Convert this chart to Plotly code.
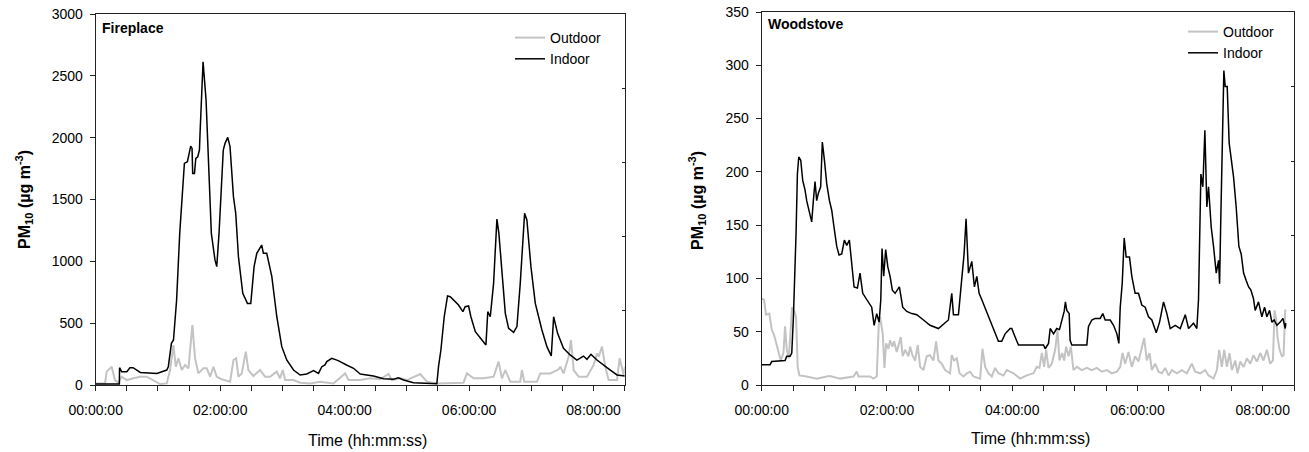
import plotly.graph_objects as go

# ---------------- data (time in minutes from start, PM10 in µg m-3) ----------------
FP_IN_T = [0, 22.8, 23, 25, 30, 33, 36, 43, 59, 68.5, 70, 73, 75, 78, 81, 85.5, 88.4, 91.6, 92.9, 93.5,
           95.2, 96.5, 98.4, 100, 100.6, 103.5, 106.4, 109, 111.5, 115, 116.7, 118.9, 120.5, 123, 124.7,
           127.3, 129.5, 132.8, 135, 137.6, 141.8, 146.3, 149.5, 152.7, 155.3, 158.5, 160, 161.7, 164.9,
           169.8, 174.6, 179.4, 184.2, 190.7, 197.1, 203.5, 210, 214.8, 218, 221, 222.8, 227.6, 233.8,
           241.8, 248.6, 255, 261.4, 267.8, 277.5, 287, 291.9, 296.8, 306.4, 319.3, 328.9, 330.5, 332.8,
           336, 339.2, 341.8, 345, 349.8, 354, 356.2, 359.5, 361.7, 366, 370.7, 376.2, 378, 380.4, 383.6,
           386.8, 388.7, 391.6, 394.9, 398.1, 402.9, 406.1, 409.3, 413.5, 415.7, 419.6, 423.8, 430.2, 435,
           439.2, 441.5, 445.3, 451, 457.4, 463.9, 470.3, 473.6, 477.5, 483.3, 492.9, 502.6, 510.2]
FP_IN_V = [8, 8, 140, 108, 108, 140, 140, 102, 94, 121, 148, 337, 364, 687, 1226, 1792, 1806, 1932, 1913, 1711,
           1711, 1833, 1846, 1900, 2035, 2614, 2304, 1684, 1226, 1011, 957, 1226, 1496, 1900, 1954,
           2002, 1927, 1523, 1388, 1038, 741, 660, 660, 957, 1065, 1105, 1132, 1065, 1065,
           876, 552, 310, 202, 121, 81, 89, 116, 94, 148, 162, 189, 216, 197,
           162, 135, 89, 81, 73, 51, 46, 59, 40, 19, 11, 11, 148, 283,
           552, 720, 714, 687, 647, 593, 633, 639, 552, 431, 377, 323, 593, 552, 822,
           1342, 1226, 903, 579, 458, 426, 472, 822, 1388, 1334, 957, 660, 445, 310,
           234, 552, 418, 296, 243, 202, 234, 208, 248, 202, 140, 81, 73]

FP_OUT_T = [0, 9, 10.6, 15.4, 18.6, 21.8, 25, 29.9, 36.3, 42.8, 49.2, 55.6, 62, 68.5, 71.7, 74.9, 77.2, 79.7,
            83, 86.2, 89.4, 93.2, 95.8, 99, 103.8, 107, 110.3, 113.5, 116.7, 121.5, 129.6, 132.8, 135.4,
            137.6, 140.8, 144.7, 147.2, 152, 158.5, 163.3, 168.1, 174.5, 177.7, 180.3, 182.6, 190.6, 197,
            206.7, 216.4, 229.2, 240.5, 243.7, 255, 264.6, 274.3, 282.3, 285.5, 293.6, 300, 312.9, 319.3,
            329, 345, 354.6, 357.9, 364.3, 373.9, 383.6, 388.4, 391.6, 394.9, 399.7, 409.3, 410.9, 413.2,
            425.4, 428.6, 438.3, 446.3, 447.9, 451.1, 455.9, 458.2, 460.8, 465.6, 473.6, 480.1, 483.3,
            484.9, 488.1, 491.3, 494.5, 502.6, 505.1, 509, 510.2]
FP_OUT_V = [13, 13, 108, 148, 40, 19, 67, 40, 54, 67, 67, 40, 8, 13, 121, 323, 148, 216,
            121, 162, 135, 485, 216, 94, 135, 135, 67, 148, 67, 46, 27, 202, 216,
            67, 94, 270, 121, 73, 121, 67, 67, 108, 54, 121, 40, 40, 19,
            13, 27, 13, 94, 40, 40, 54, 46, 89, 40, 54, 40, 89, 27,
            13, 19, 19, 94, 54, 54, 67, 189, 54, 121, 27, 27, 121, 27,
            27, 94, 94, 127, 148, 94, 229, 364, 121, 67, 67, 162, 256,
            229, 310, 148, 40, 40, 216, 81, 148]

WS_IN_T = [0, 8, 9.6, 17.6, 22.4, 24, 27.2, 28.8, 30.4, 32.9, 34.2, 35.5, 37.4, 39.3, 41.5, 43.1, 45.7, 47.9,
           49.5, 51.1, 52.7, 54.3, 56.5, 58.1, 60.1, 62.3, 64.9, 67.1, 69.3, 71.9, 74.1, 76.7, 79.2, 81.5,
           84, 86.3, 88.5, 91.7, 94.2, 96.8, 100.6, 105.4, 107.7, 110.2, 112.5, 114.1, 115.3, 116.9,
           118.8, 120.8, 123, 125.2, 127.8, 131.9, 135.1, 139, 143.8, 148.6, 155, 161.3, 169.3, 174.8,
           178.9, 182.1, 183.7, 188.5, 191.7, 193.9, 195.8, 198.1, 201.3, 203.8, 206.1, 208.3, 210.9,
           214.1, 218.8, 223.6, 226.8, 230, 233.2, 238, 239.6, 242.8, 246, 270, 271.6, 274.8, 276.4,
           279.6, 282.7, 285.3, 287.5, 289.8, 291, 292.3, 294.6, 295.5, 297.1, 311.5, 313.1, 316.3,
           319.5, 324.3, 326.8, 329.1, 333.9, 337.1, 340.3, 342.2, 343.5, 345.4, 347.3, 349.2, 352.4,
           354.6, 357.8, 361, 364.2, 367.4, 370.6, 373.8, 378, 381.2, 385, 388.2, 391.4, 396.2, 401,
           405.8, 409, 413.7, 416.9, 418.5, 420.8, 422.7, 424.6, 426.5, 428.1, 430.7, 432.9, 435.5,
           437.7, 438.7, 439.9, 441.2, 442.8, 444.1, 446, 447.9, 449.8, 452.1, 454.6, 457.2, 459.4,
           461.7, 464.2, 466.5, 468.7, 471.2, 472.8, 476, 479.2, 481.8, 484, 486.6, 488.8, 491, 493.6,
           496.8, 499.4, 501.6, 502.2]
WS_IN_V = [19, 19, 22, 23, 23, 27, 27, 30, 64, 142, 198, 214, 211, 192, 183, 173, 161, 153,
           173, 191, 173, 180, 186, 228, 211, 189, 173, 164, 148, 130, 122, 123, 136, 131,
           136, 111, 92, 91, 105, 86, 80, 73, 56, 67, 59, 80, 128, 102,
           127, 111, 102, 89, 86, 92, 73, 69, 67, 66, 61, 56, 53, 58,
           61, 86, 66, 66, 102, 123, 156, 105, 116, 92, 102, 86, 80,
           72, 61, 48, 41, 41, 48, 53, 53, 45, 37.5, 37.5, 34, 39, 53,
           48, 53, 52, 61, 69, 78, 70, 67, 42, 37.5, 37.5, 55, 61,
           62.5, 62.5, 67, 61, 61, 56, 48, 39, 73, 95, 138, 120, 120,
           102, 86, 86, 75, 73, 64, 61, 49, 59, 78, 67, 53, 56, 53,
           66, 53, 58, 53, 80, 198, 186, 239, 167, 186, 148, 130, 105,
           117, 95, 158, 236, 295, 280, 280, 227, 211, 195, 167, 130, 123,
           105, 98, 92, 89, 81, 70, 78, 64, 73, 64, 70, 59, 61, 56,
           59, 62.5, 53, 58]

WS_OUT_T = [0, 2.2, 4.2, 7.3, 9.6, 11.8, 14.4, 16.3, 18.2, 20.8, 22.4, 24, 25.9, 27.8, 29, 31, 32.9, 34.5,
            36.1, 43.1, 52.7, 62.3, 65.5, 75, 87.9, 91, 92.7, 103.8, 107, 110.2, 112.1, 113.4, 116,
            117.6, 119.2, 121.4, 123, 125.2, 126.8, 129.4, 131, 133.2, 135.1, 137.4, 140.6, 142.2,
            144.4, 147, 149.5, 151.8, 155, 158.1, 161.3, 164.5, 167.1, 169.3, 172.5, 175.7, 180.5,
            182.1, 184.3, 186.9, 189.5, 193.3, 196.5, 199.7, 202.9, 209.3, 211.5, 214.1, 217.3, 220.4,
            223.6, 226.8, 231.6, 234.8, 238, 241.2, 247.6, 254, 260.4, 263.6, 266.1, 268.4, 270.6,
            272.5, 274.8, 277.9, 281.2, 283.4, 285.3, 287.9, 289.8, 291.7, 294, 296.2, 298.7, 301.9,
            306.7, 311.5, 316.3, 321.1, 325.9, 330.7, 335.5, 340.3, 343.5, 345.7, 348.2, 351.4, 354.6,
            357.8, 361, 363.2, 366.4, 369, 371.6, 373.8, 377, 380.2, 383.4, 386.6, 389.8, 393, 397.8,
            402.6, 407.3, 412.1, 415.3, 420.1, 424.9, 428.1, 432.9, 436.1, 438.3, 440.9, 443.1, 445.7,
            448.2, 450.5, 453.7, 455.9, 458.5, 461.7, 464.9, 468.1, 471.2, 474.4, 477.6, 480.8, 484,
            487.2, 489.8, 491.4, 493, 494.2, 496.2, 498.4, 500, 501.6, 502.6]
WS_OUT_V = [81, 80, 66, 67, 52, 47, 37.5, 30, 23, 30, 55, 33, 25, 52, 73, 70, 64, 17,
            9, 8, 6, 8, 8.4, 6, 8, 12.5, 8, 8, 6, 8, 55, 64, 48,
            16, 39, 34, 42, 36, 41, 31, 36, 45, 27, 33, 27, 36,
            28, 23, 37.5, 17, 14, 27, 28, 23, 41, 23, 20, 14, 11,
            28, 23, 25, 11, 8, 11, 12.5, 8, 6, 34, 17, 11, 8,
            16, 11, 9, 14, 12.5, 11, 6, 9, 11, 17, 16, 30, 17,
            33, 16, 20, 33, 52, 23, 30, 23, 36, 27, 36, 14, 17,
            14, 16, 14, 16, 12.5, 14, 11, 12.5, 17, 30, 20, 31, 17,
            27, 22, 30, 44, 23, 30, 14, 20, 12.5, 11, 16, 9, 14, 11,
            14, 11, 20, 12.5, 11, 14, 9, 6, 14, 33, 17, 33, 17,
            30, 14, 23, 11, 22, 17, 25, 20, 28, 22, 30, 23, 33,
            20, 23, 70, 61, 45, 33, 27, 28, 70, 70]

TICK_VALS = [0, 30, 60, 90, 120, 150, 180, 210, 240, 270, 300, 330, 360, 390, 420, 450, 480, 510]
TICK_LABELS = ["00:00:00", "", "", "", "02:00:00", "", "", "", "04:00:00", "", "", "",
               "06:00:00", "", "", "", "08:00:00", ""]
SERIES_NAMES = ["Outdoor", "Indoor"]
PANEL_TITLES = ["Fireplace", "Woodstove"]

# ---------------- figure ----------------
W, H = 1309, 452
FONT = "Liberation Sans, Arial, sans-serif"
GREY = "#c3c3c3"

def px_x(p):
    return p / W

def px_y(p):
    return (H - p) / H

fig = go.Figure()
fig.add_trace(go.Scatter(x=FP_OUT_T, y=FP_OUT_V, name=SERIES_NAMES[0], mode="lines",
                         line=dict(color=GREY, width=2), xaxis="x", yaxis="y", legend="legend"))
fig.add_trace(go.Scatter(x=FP_IN_T, y=FP_IN_V, name=SERIES_NAMES[1], mode="lines",
                         line=dict(color="black", width=1.5), xaxis="x", yaxis="y", legend="legend"))
fig.add_trace(go.Scatter(x=WS_OUT_T, y=WS_OUT_V, name=SERIES_NAMES[0], mode="lines",
                         line=dict(color=GREY, width=2), xaxis="x2", yaxis="y2", legend="legend2"))
fig.add_trace(go.Scatter(x=WS_IN_T, y=WS_IN_V, name=SERIES_NAMES[1], mode="lines",
                         line=dict(color="black", width=1.5), xaxis="x2", yaxis="y2", legend="legend2"))

AX = "#222222"
common_x = dict(range=[0, 510], tickmode="array", tickvals=TICK_VALS, ticktext=TICK_LABELS,
                ticks="outside", ticklen=5, tickcolor=AX, showline=True, linecolor=AX, linewidth=1,
                mirror=True, showgrid=False, zeroline=False, ticklabelstandoff=7, automargin=False,
                tickfont=dict(family=FONT, size=14, color="black"))
common_y = dict(ticks="outside", ticklen=5, tickcolor=AX, showline=True, linecolor=AX, linewidth=1,
                mirror=True, showgrid=False, zeroline=False, ticklabelstandoff=4, automargin=False,
                tickfont=dict(family=FONT, size=14, color="black"))

L_DOM_X = [px_x(95.7), px_x(624.7)]
R_DOM_X = [px_x(761.7), px_x(1294)]
L_DOM_Y = [px_y(385), px_y(14)]
R_DOM_Y = [px_y(385), px_y(12)]

fig.update_layout(
    width=W, height=H, margin=dict(l=0, r=0, t=0, b=0, autoexpand=False),
    paper_bgcolor="white", plot_bgcolor="white",
    font=dict(family=FONT, size=14, color="black"),
    xaxis=dict(domain=L_DOM_X, anchor="y", **common_x),
    yaxis=dict(domain=L_DOM_Y, anchor="x", range=[0, 3000], dtick=500, **common_y),
    xaxis2=dict(domain=R_DOM_X, anchor="y2", **common_x),
    yaxis2=dict(domain=R_DOM_Y, anchor="x2", range=[0, 350], dtick=50, **common_y),
    # decorative inner ticks on right frame
    yaxis3=dict(overlaying="y", anchor="x", side="right", range=[0, 5], tickvals=[1, 2, 3, 4],
                ticks="inside", ticklen=3, tickcolor=AX, showticklabels=False, showgrid=False,
                zeroline=False, showline=False, automargin=False),
    yaxis4=dict(overlaying="y2", anchor="x2", side="right", range=[0, 5], tickvals=[1, 2, 3, 4],
                ticks="inside", ticklen=3, tickcolor=AX, showticklabels=False, showgrid=False,
                zeroline=False, showline=False, automargin=False),
    legend=dict(x=px_x(510), y=px_y(22), xanchor="left", yanchor="top", bgcolor="rgba(0,0,0,0)",
                font=dict(family=FONT, size=14), tracegroupgap=0, itemwidth=30),
    legend2=dict(x=px_x(1183), y=px_y(16), xanchor="left", yanchor="top", bgcolor="rgba(0,0,0,0)",
                 font=dict(family=FONT, size=14), tracegroupgap=0, itemwidth=30),
)

# invisible traces so decorative axes render
fig.add_trace(go.Scatter(x=[None], y=[None], xaxis="x", yaxis="y3", showlegend=False, hoverinfo="skip"))
fig.add_trace(go.Scatter(x=[None], y=[None], xaxis="x2", yaxis="y4", showlegend=False, hoverinfo="skip"))

ann = []
ann.append(dict(text="<b>" + PANEL_TITLES[0] + "</b>", x=px_x(100), y=px_y(28), xref="paper", yref="paper",
                xanchor="left", yanchor="middle", showarrow=False, font=dict(family=FONT, size=14)))
ann.append(dict(text="<b>" + PANEL_TITLES[1] + "</b>", x=px_x(766), y=px_y(24), xref="paper", yref="paper",
                xanchor="left", yanchor="middle", showarrow=False, font=dict(family=FONT, size=14)))
ytitle = "<b>PM<sub>10</sub> (µg m<sup>-3</sup>)</b>"
ann.append(dict(text=ytitle, x=px_x(24), y=px_y(200), xref="paper", yref="paper", textangle=-90,
                xanchor="center", yanchor="middle", showarrow=False, font=dict(family=FONT, size=16)))
ann.append(dict(text=ytitle, x=px_x(697), y=px_y(200), xref="paper", yref="paper", textangle=-90,
                xanchor="center", yanchor="middle", showarrow=False, font=dict(family=FONT, size=16)))
ann.append(dict(text="Time (hh:mm:ss)", x=px_x(367), y=px_y(440), xref="paper", yref="paper",
                xanchor="center", yanchor="middle", showarrow=False, font=dict(family=FONT, size=16)))
ann.append(dict(text="Time (hh:mm:ss)", x=px_x(1030), y=px_y(438), xref="paper", yref="paper",
                xanchor="center", yanchor="middle", showarrow=False, font=dict(family=FONT, size=16)))
fig.update_layout(annotations=ann)

fig.write_html("out.html", config={"displayModeBar": False},
               post_script="document.body.style.margin='0';document.body.style.padding='0';"
                           "document.body.style.overflow='hidden';")
